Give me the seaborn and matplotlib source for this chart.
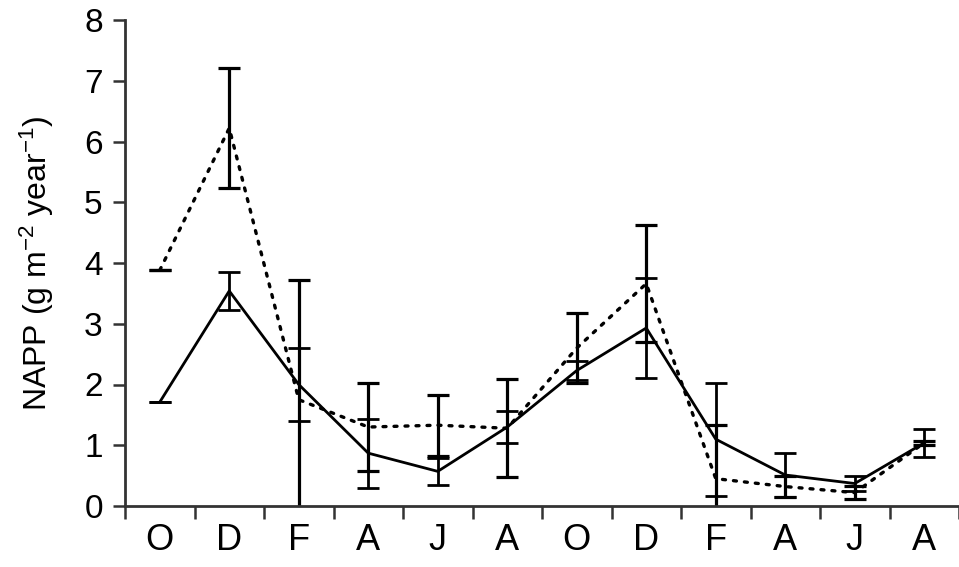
import numpy as np
import pandas as pd
import matplotlib
matplotlib.use("Agg")
import matplotlib.pyplot as plt
import seaborn as sns

# Months of the sampling period
months = ["O", "D", "F", "A", "J", "A", "O", "D", "F", "A", "J", "A"]

# NAPP means and standard errors for the two series
solid_mean = [1.71, 3.54, 2.00, 0.87, 0.57, 1.30, 2.23, 2.93, 1.10, 0.51, 0.37, 1.04]
solid_err = [0.00, 0.31, 0.60, 0.57, 0.22, 0.26, 0.15, 0.83, 0.93, 0.36, 0.12, 0.23]
dotted_mean = [3.88, 6.22, 1.75, 1.30, 1.33, 1.28, 2.60, 3.66, 0.45, 0.32, 0.22, 1.04]
dotted_err = [0.00, 0.99, 1.97, 0.72, 0.50, 0.81, 0.58, 0.96, 0.88, 0.17, 0.11, 0.03]

sns.set_theme(style="white")
plt.rcParams["font.family"] = ["Liberation Sans", "DejaVu Sans"]
plt.rcParams["mathtext.default"] = "regular"
plt.rcParams["text.color"] = "black"
plt.rcParams["axes.labelcolor"] = "black"

W, H = 959, 567
fig = plt.figure(figsize=(W / 100, H / 100), dpi=100)
left_px, bottom_px, top_px = 125, 61, 20
step_px = 70.0
ax = fig.add_axes([left_px / W, bottom_px / H, (W - left_px) / W, (H - bottom_px - top_px) / H])

pos = np.arange(len(months))
df = pd.DataFrame({
    "pos": np.concatenate([pos, pos]),
    "napp": solid_mean + dotted_mean,
    "series": ["solid"] * len(pos) + ["dotted"] * len(pos),
})

sns.lineplot(data=df[df.series == "solid"], x="pos", y="napp", color="black",
             linewidth=2.0, ax=ax, legend=False)
sns.lineplot(data=df[df.series == "dotted"], x="pos", y="napp", color="black",
             linewidth=2.4, ax=ax, legend=False)
ax.lines[-1].set_linestyle((0, (0.9, 2.4)))
ax.lines[-1].set_dash_capstyle("round")

ax.errorbar(pos, solid_mean, yerr=solid_err, fmt="none", ecolor="black",
            elinewidth=2.0, capsize=8, capthick=2.0)
ax.errorbar(pos, dotted_mean, yerr=dotted_err, fmt="none", ecolor="black",
            elinewidth=2.3, capsize=8, capthick=2.3)

ax.set_xlim(-0.5, -0.5 + (W - left_px) / step_px)
ax.set_ylim(0, 8)
ax.set_yticks(range(0, 9))
ax.set_xticks(pos)
ax.set_xticklabels(months)
ax.set_xticks(np.arange(-0.5, 12, 1.0), minor=True)

ax.tick_params(axis="x", which="major", length=0, pad=12, labelsize=26,
               labelcolor="black")
ax.tick_params(axis="x", which="minor", length=9, width=1.8, direction="out",
               bottom=True, color="#333333")
ax.tick_params(axis="y", which="major", length=9, width=1.8, direction="out",
               left=True, pad=7, labelsize=24, color="#333333", labelcolor="black")

for side in ["top", "right"]:
    ax.spines[side].set_visible(False)
for side in ["left", "bottom"]:
    ax.spines[side].set_color("#333333")
    ax.spines[side].set_linewidth(2.0)

ax.set_xlabel("")
ax.set_ylabel("NAPP (g m$^{-2}$ year$^{-1}$)", fontsize=23, labelpad=20)
ax.grid(False)

fig.savefig("out.png", dpi=100, facecolor="white")
